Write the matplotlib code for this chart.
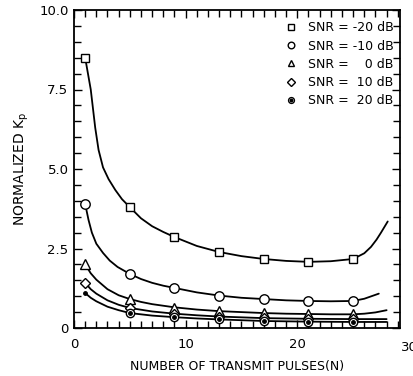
# Normalized Kp versus number of transmit pulses, one curve per SNR
import matplotlib
matplotlib.use('Agg')
import matplotlib.pyplot as plt
from matplotlib.ticker import MultipleLocator, FixedLocator
from matplotlib.legend_handler import HandlerTuple

plt.rcParams['font.family'] = ['DejaVu Sans']

# marker points
n_pts = [1, 5, 9, 13, 17, 21, 25]
kp_m20 = [8.5, 3.8, 2.86, 2.39, 2.17, 2.08, 2.17]
kp_m10 = [3.9, 1.70, 1.26, 1.02, 0.91, 0.85, 0.85]
kp_0 = [2.0, 0.91, 0.64, 0.53, 0.47, 0.44, 0.43]
kp_10 = [1.42, 0.63, 0.45, 0.36, 0.31, 0.29, 0.28]
kp_20 = [1.1, 0.47, 0.35, 0.28, 0.22, 0.2, 0.19]

# the drawn curves, read at more places
cx_m20 = [1, 1.5, 1.9, 2.2, 2.6, 3.1, 3.7, 4.3, 5, 6, 7, 8, 9, 11, 13, 15, 17, 19,
          21, 23, 25, 26, 26.6, 27.1, 27.5, 28.1]
cy_m20 = [8.5, 7.5, 6.3, 5.6, 5.05, 4.68, 4.34, 4.05, 3.8, 3.45, 3.2, 3.02, 2.86,
          2.58, 2.39, 2.26, 2.17, 2.11, 2.08, 2.1, 2.17, 2.35, 2.55, 2.78, 3.0, 3.35]
cx_m10 = [1, 1.3, 1.6, 2.0, 2.6, 3.2, 3.9, 5, 6, 7, 8, 9, 11, 13, 15, 17, 19, 21,
          23, 25, 26, 27.3]
cy_m10 = [3.9, 3.4, 3.0, 2.65, 2.36, 2.12, 1.92, 1.70, 1.54, 1.42, 1.33, 1.26,
          1.12, 1.02, 0.95, 0.91, 0.87, 0.85, 0.84, 0.85, 0.92, 1.08]
cx_0 = [1, 1.5, 2, 3, 4, 5, 6, 7, 9, 11, 13, 15, 17, 19, 21, 23, 25, 26, 27, 28]
cy_0 = [2.0, 1.72, 1.52, 1.22, 1.03, 0.91, 0.82, 0.75, 0.65, 0.58, 0.53, 0.5,
        0.47, 0.45, 0.44, 0.43, 0.43, 0.45, 0.49, 0.56]
cx_10 = [1, 1.5, 2, 3, 4, 5, 7, 9, 11, 13, 17, 21, 25, 28]
cy_10 = [1.42, 1.22, 1.08, 0.87, 0.73, 0.63, 0.52, 0.45, 0.4, 0.36, 0.31, 0.29,
         0.28, 0.28]
cx_20 = [1, 1.5, 2, 3, 4, 5, 7, 9, 11, 13, 17, 21, 25, 28]
cy_20 = [1.1, 0.95, 0.84, 0.67, 0.56, 0.47, 0.39, 0.34, 0.3, 0.27, 0.22, 0.2,
         0.19, 0.19]

labels = ['SNR = -20 dB', 'SNR = -10 dB', 'SNR =  \u20070 dB',
          'SNR =  10 dB', 'SNR =  20 dB']

fig = plt.figure(figsize=(4.14, 3.76), dpi=100)
ax = fig.add_axes([74/414, 1 - 328/376, 326/414, 318/376])

lw = 1.3
mk = dict(color='black', markerfacecolor='white', markeredgecolor='black',
          markeredgewidth=1.0, linestyle='none', zorder=3)

for cx, cy in [(cx_m20, cy_m20), (cx_m10, cy_m10), (cx_0, cy_0), (cx_10, cy_10), (cx_20, cy_20)]:
    ax.plot(cx, cy, color='black', lw=lw, solid_capstyle='round', solid_joinstyle='round')

h1, = ax.plot(n_pts, kp_m20, marker='s', markersize=6.2, **mk)
h2, = ax.plot(n_pts, kp_m10, marker='o', markersize=6.8, **mk)
h3, = ax.plot(n_pts, kp_0, marker='^', markersize=7, **mk)
h4, = ax.plot(n_pts, kp_10, marker='D', markersize=5.5, **mk)
h5a, = ax.plot(n_pts, kp_20, marker='o', markersize=6, markevery=slice(1, None), **mk)
h5b, = ax.plot(n_pts, kp_20, marker='o', markersize=2.5, color='black', linestyle='none', zorder=4)

ax.legend([h1, h2, h3, h4, (h5a, h5b)], labels,
          handler_map={tuple: HandlerTuple(ndivide=1)},
          loc='upper right', bbox_to_anchor=(1.016, 1.0), frameon=False,
          fontsize=9, handlelength=0.8, handletextpad=1.0, labelspacing=0.42,
          markerscale=0.7)

ax.set_xlim(0, 29.2)
ax.set_ylim(0, 10)
ax.xaxis.set_major_locator(FixedLocator([0, 10, 20]))
ax.xaxis.set_minor_locator(MultipleLocator(1))
ax.yaxis.set_major_locator(FixedLocator([0, 2.5, 5, 7.5, 10]))
ax.yaxis.set_minor_locator(MultipleLocator(0.5))
ax.set_yticklabels(['0', '2.5', '5.0', '7.5', '10.0'])
ax.set_xticklabels(['0', '10', '20'])
ax.text(30, -0.42, '30', ha='center', va='top', fontsize=9.5, clip_on=False)

ax.tick_params(which='both', direction='in', top=True, right=True, labelsize=9.5,
               width=1.0)
ax.tick_params(axis='x', which='both', pad=7)
ax.tick_params(axis='y', which='both', pad=4)
ax.tick_params(which='major', length=6)
ax.tick_params(which='minor', length=5)
for s in ax.spines.values():
    s.set_linewidth(1.3)

ax.set_xlabel('NUMBER OF TRANSMIT PULSES(N)', fontsize=9, labelpad=7)
ax.set_ylabel('NORMALIZED K$_\\mathregular{p}$', fontsize=10, labelpad=6)

fig.savefig('out.png', dpi=100)
